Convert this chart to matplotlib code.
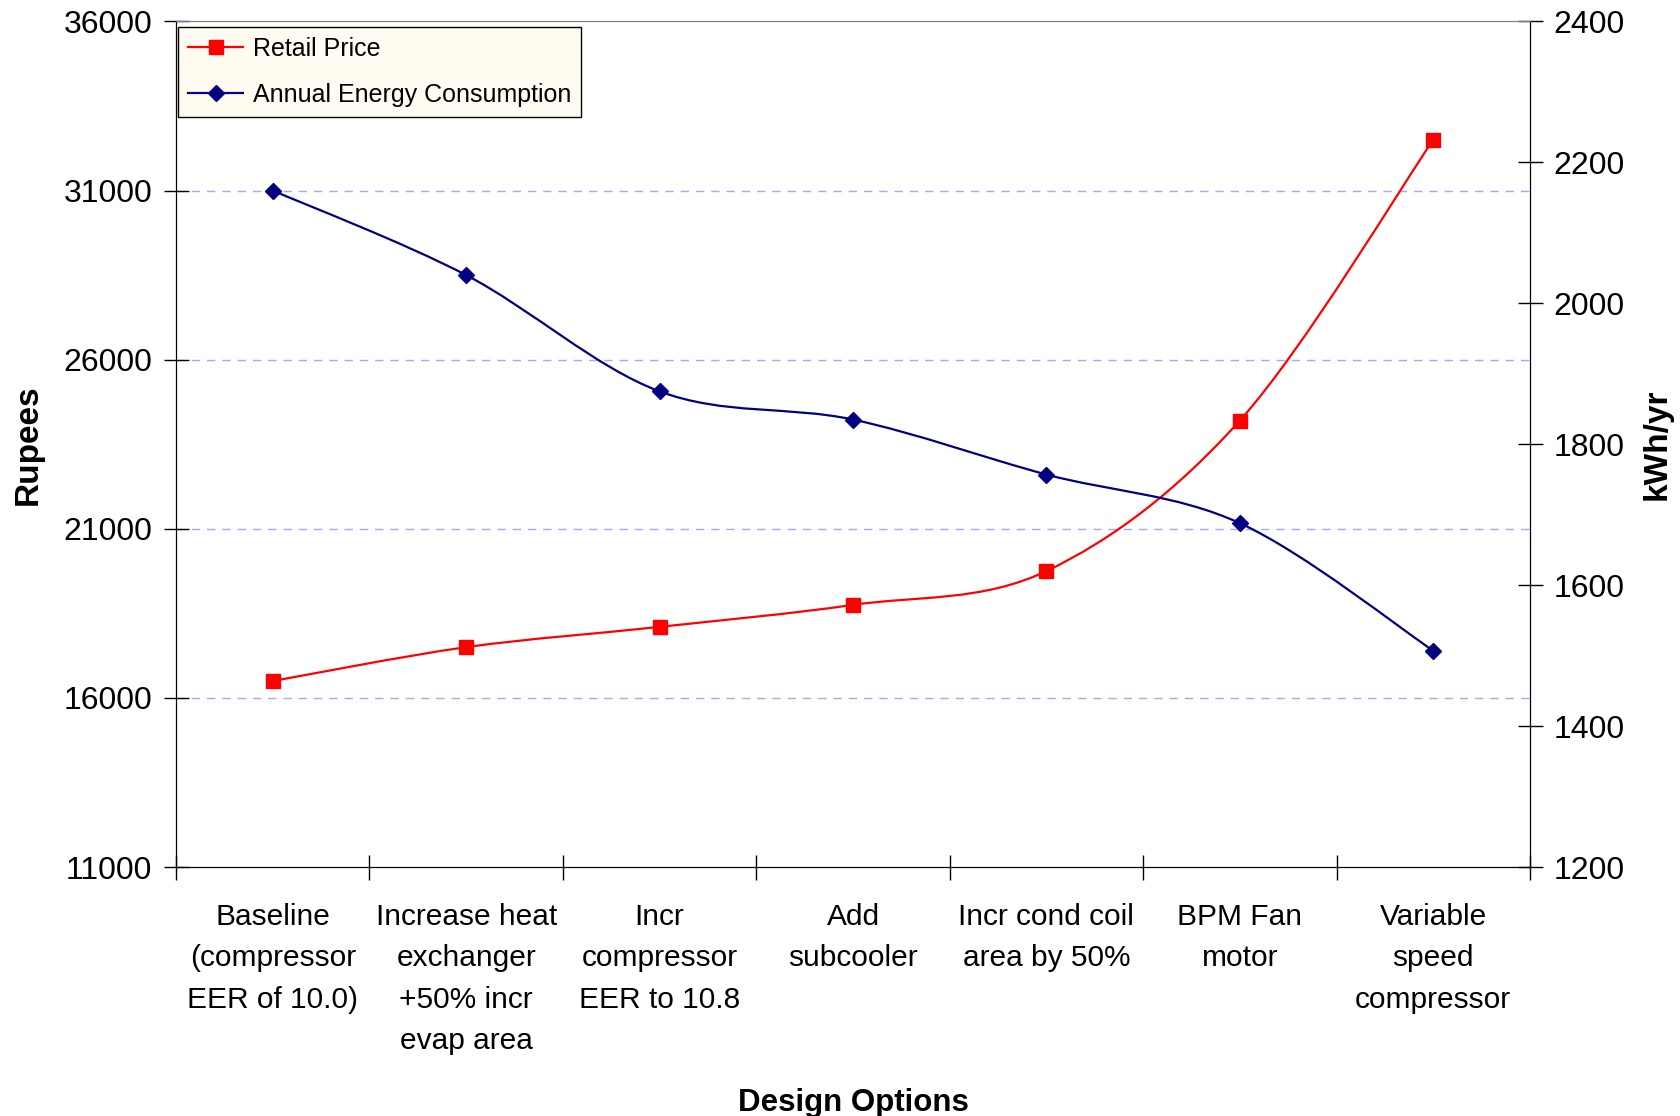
import matplotlib
matplotlib.use("Agg")
import matplotlib.pyplot as plt
from matplotlib.path import Path
from matplotlib.patches import PathPatch
from matplotlib.lines import Line2D
import numpy as np

plt.rcParams['font.family'] = ['Liberation Sans', 'DejaVu Sans']

categories = [
    "Baseline\n(compressor\nEER of 10.0)",
    "Increase heat\nexchanger\n+50% incr\nevap area",
    "Incr\ncompressor\nEER to 10.8",
    "Add\nsubcooler",
    "Incr cond coil\narea by 50%",
    "BPM Fan\nmotor",
    "Variable\nspeed\ncompressor",
]
retail_price = [16500, 17500, 18100, 18750, 19750, 24200, 32500]
energy_kwh = [2160, 2040, 1875, 1835, 1757, 1688, 1507]


def smooth_path(xs, ys):
    # Excel-like smoothed line: Catmull-Rom turned into cubic Bezier segments
    pts = np.column_stack([xs, ys]).astype(float)
    ext = np.vstack([pts[0], pts, pts[-1]])
    verts = [tuple(pts[0])]
    codes = [Path.MOVETO]
    for i in range(1, len(ext) - 2):
        p0, p1, p2, p3 = ext[i - 1], ext[i], ext[i + 1], ext[i + 2]
        c1 = p1 + (p2 - p0) / 6.0
        c2 = p2 - (p3 - p1) / 6.0
        verts += [tuple(c1), tuple(c2), tuple(p2)]
        codes += [Path.CURVE4] * 3
    return Path(verts, codes)


x = np.arange(len(categories))

fig = plt.figure(figsize=(16.8, 11.16), dpi=100)
ax = fig.add_axes([0.1048, 0.2231, 0.8059, 0.7577])
ax2 = ax.twinx()

red = '#ff0000'
navy = '#000080'

ax.add_patch(PathPatch(smooth_path(x, retail_price), fill=False, edgecolor=red, lw=1.6, zorder=3))
ax.plot(x, retail_price, linestyle='none', marker='s', ms=10, color=red, zorder=4)

ax2.add_patch(PathPatch(smooth_path(x, energy_kwh), fill=False, edgecolor=navy, lw=1.6, zorder=3))
ax2.plot(x, energy_kwh, linestyle='none', marker='D', ms=8.5, color=navy, zorder=4)

ax.set_xlim(-0.5, len(categories) - 0.5)
ax.set_ylim(11000, 36000)
ax.set_yticks(range(11000, 36001, 5000))
ax2.set_ylim(1200, 2400)
ax2.set_yticks(range(1200, 2401, 200))

for v in range(16000, 32000, 5000):
    ax.axhline(v, color='#a6a6ff', lw=1.0, ls=(0, (6, 5)), zorder=1)

ax.set_xticks(x)
ax.set_xticklabels(categories, fontsize=21.5, linespacing=1.6)
ax.set_xticks(np.arange(-0.5, len(categories), 1.0), minor=True)
ax.tick_params(axis='x', which='major', length=0, pad=26)
ax.tick_params(axis='x', which='minor', direction='inout', length=18, width=1.0)
ax.tick_params(axis='y', direction='inout', length=18, width=1.0, labelsize=23, pad=8)
ax2.tick_params(axis='y', direction='inout', length=18, width=1.0, labelsize=23, pad=8)

for a in (ax, ax2):
    a.spines['top'].set_color('#808080')
    a.spines['left'].set_color('black')
    a.spines['right'].set_color('black')
    a.spines['bottom'].set_color('black')

ax.set_ylabel("Rupees", fontsize=24, fontweight='bold', labelpad=14)
ax2.set_ylabel("kWh/yr", fontsize=24, fontweight='bold', labelpad=12)
ax.set_xlabel("Design Options", fontsize=22.5, fontweight='bold', labelpad=24)

handles = [
    Line2D([], [], color=red, lw=1.6, marker='s', ms=10),
    Line2D([], [], color=navy, lw=1.6, marker='D', ms=8.5),
]
leg = ax2.legend(handles, ["Retail Price", "Annual Energy Consumption"],
                 loc='upper left', bbox_to_anchor=(0.0015, 0.994), fontsize=18,
                 frameon=True, fancybox=False, edgecolor='black',
                 facecolor='#fffbf0', framealpha=1.0, handlelength=2.2,
                 borderpad=0.4, labelspacing=0.9, handletextpad=0.4,
                 borderaxespad=0)
leg.get_frame().set_linewidth(1.0)

fig.savefig("out.png", dpi=100)
